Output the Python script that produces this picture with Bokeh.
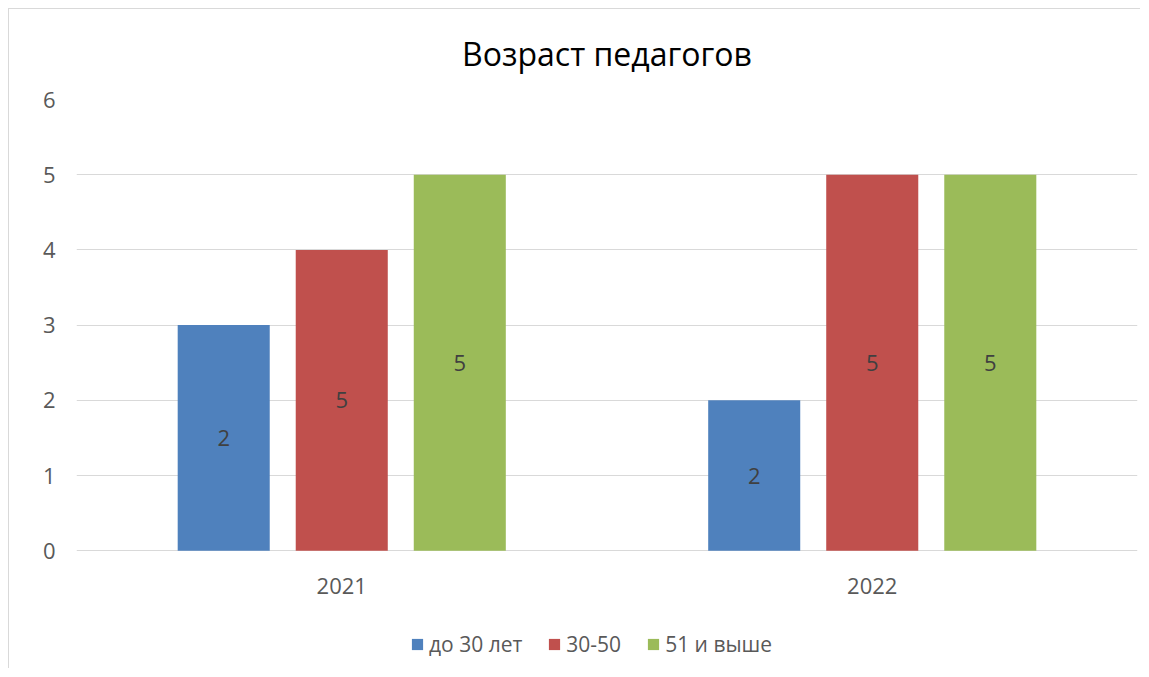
from bokeh.plotting import figure
from bokeh.models import ColumnDataSource, FactorRange, Legend, LegendItem, Range1d, FixedTicker
from bokeh.transform import dodge
from bokeh.core.properties import value
from bokeh.embed import file_html
from bokeh.resources import INLINE

# ---- data ----
years = ["2021", "2022"]
series_names = ["до 30 лет", "30-50", "51 и выше"]
young = [3, 2]
middle = [4, 5]
senior = [5, 5]
young_labels = ["2", "2"]
middle_labels = ["5", "5"]
senior_labels = ["5", "5"]
title_text = "Возраст педагогов"
y_ticks = [0, 1, 2, 3, 4, 5, 6]

colors = ["#4F81BD", "#C0504D", "#9BBB59"]
FONT = "Open Sans"

src = ColumnDataSource(data=dict(
    years=years,
    zero=[0] * len(years),
    young=young, middle=middle, senior=senior,
    young_mid=[v / 2 for v in young],
    middle_mid=[v / 2 for v in middle],
    senior_mid=[v / 2 for v in senior],
    young_lab=young_labels, middle_lab=middle_labels, senior_lab=senior_labels,
))

# frame extends below the zero line so that the legend can sit inside it
p = figure(
    x_range=FactorRange(*years, range_padding=0),
    y_range=Range1d(-1.5, 6),
    frame_width=1061, frame_height=564,
    output_backend="svg", toolbar_location=None,
    min_border_left=76, min_border_right=3, min_border_top=99, min_border_bottom=5,
)
p.border_fill_alpha = 0
p.background_fill_color = "white"
p.styles = {"background": "linear-gradient(#d9d9d9,#d9d9d9) 8px 8px / 1px 100% no-repeat, "
                          "linear-gradient(#d9d9d9,#d9d9d9) 8px 8px / 100% 1px no-repeat, white"}

p.title.text = title_text
p.title.align = "center"
p.title.text_font = FONT
p.title.text_font_size = "32px"
p.title.text_font_style = "normal"
p.title.text_color = "#000000"
p.title.standoff = 50

offsets = [-0.2225, 0.0, 0.2225]
cols = ["young", "middle", "senior"]
renderers = []
for off, col, c in zip(offsets, cols, colors):
    r = p.vbar(x=dodge("years", off, range=p.x_range), top=col, width=0.1735,
               source=src, fill_color=c, line_color=None)
    renderers.append(r)
    p.text(x=dodge("years", off, range=p.x_range), y=col + "_mid", text=col + "_lab",
           source=src, text_align="center", text_baseline="middle",
           text_font=value(FONT), text_font_size="22px", text_color="#404040")

# category labels under the zero line
p.text(x="years", y="zero", text="years", source=src, y_offset=35,
       text_align="center", text_baseline="middle",
       text_font=value(FONT), text_font_size="22px", text_color="#595959")

p.outline_line_color = None
p.xgrid.grid_line_color = None
p.ygrid.grid_line_color = "#d9d9d9"
p.ygrid.grid_line_width = 1
p.yaxis.ticker = FixedTicker(ticks=y_ticks)
p.xaxis.visible = False

p.yaxis.axis_line_color = None
p.yaxis.major_tick_line_color = None
p.yaxis.minor_tick_line_color = None
p.yaxis.major_label_standoff = 15
p.yaxis.major_label_text_font = FONT
p.yaxis.major_label_text_font_size = "22px"
p.yaxis.major_label_text_color = "#595959"

legend = Legend(items=[LegendItem(label=n, renderers=[r]) for n, r in zip(series_names, renderers)],
                orientation="horizontal", location=(334, 5))
legend.label_text_font = FONT
legend.label_text_font_size = "21px"
legend.label_text_color = "#595959"
legend.glyph_width = 14
legend.glyph_height = 14
legend.label_standoff = 5
legend.spacing = 25
legend.border_line_color = None
legend.background_fill_alpha = 0
legend.margin = 0
legend.padding = 0
p.add_layout(legend, "center")

open("out.html", "w").write(file_html(p, INLINE))
